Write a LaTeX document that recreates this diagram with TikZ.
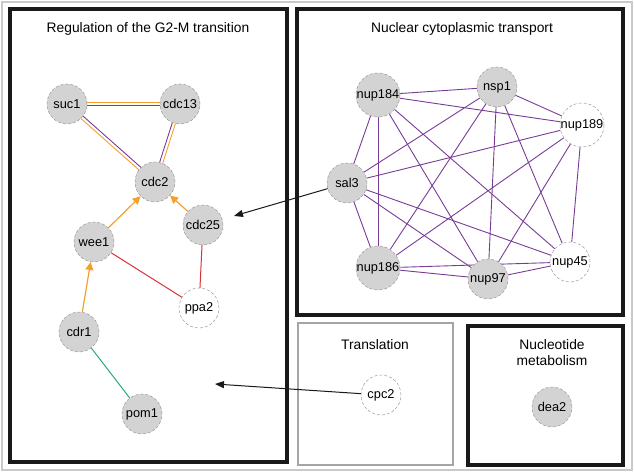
\documentclass[tikz,border=0pt]{standalone}
\usepackage{fontspec}
\setmainfont{Liberation Sans}
\usetikzlibrary{calc,arrows.meta,backgrounds}
\definecolor{nodegray}{RGB}{211,211,211}
\definecolor{edgeorange}{RGB}{245,160,45}
\definecolor{edgepurple}{RGB}{120,60,150}
\definecolor{edgered}{RGB}{215,50,55}
\definecolor{edgegreen}{RGB}{40,170,120}
\definecolor{framegray}{RGB}{165,165,165}
\tikzset{
  gene/.style={circle, minimum size=40pt, inner sep=0pt, draw=gray!80, densely dashed, line width=0.5pt, fill=nodegray, font=\fontsize{12.8}{14}\selectfont},
  genew/.style={gene, fill=white},
  titletext/.style={font=\fontsize{13.8}{16}\selectfont, align=center, inner sep=0pt},
  bigbox/.style={draw=black!90, line width=4pt},
  graybox/.style={draw=framegray, line width=2pt},
  oarrow/.style={edgeorange, line width=1.2pt, -{Triangle[length=8pt,width=8pt]}},
  karrow/.style={black!90, line width=1pt, -{Triangle[length=9pt,width=7pt]}},
  pline/.style={edgepurple, line width=0.9pt},
  oline/.style={edgeorange, line width=0.9pt},
  rline/.style={edgered, line width=1pt},
  gline/.style={edgegreen, line width=1pt},
}
\begin{document}
\begin{tikzpicture}[x=1pt,y=-1pt]
\useasboundingbox (0,0) rectangle (634,473);
\draw[framegray!60, line width=1.5pt] (2,2) rectangle (632,470);
% boxes
\draw[bigbox] (10,9) rectangle (287,462);
\draw[bigbox] (297,9) rectangle (623,315);
\draw[graybox] (298,323) rectangle (453,465);
\draw[bigbox] (468,326) rectangle (623,465);
% titles
\node[titletext] (t1) at (148,29) {Regulation of the G2-M transition};
\node[titletext] (t2) at (462,29) {Nuclear cytoplasmic transport};
\node[titletext] (t3) at (375,345) {Translation};
\node[titletext] (t4) at (552,353) {Nucleotide\\metabolism};
% left nodes
\node[gene] (suc1) at (67,104) {suc1};
\node[gene] (cdc13) at (180,104) {cdc13};
\node[gene] (cdc2) at (155,182) {cdc2};
\node[gene] (cdc25) at (203,225) {cdc25};
\node[gene] (wee1) at (94,242) {wee1};
\node[genew] (ppa2) at (199,308) {ppa2};
\node[gene] (cdr1) at (79,332) {cdr1};
\node[gene] (pom1) at (142,414) {pom1};
\coordinate (tgt) at (215,384);
% right nodes
\node[gene] (nup184) at (378,95) {nup184};
\node[gene] (nsp1) at (497,87) {nsp1};
\node[genew] (nup189) at (582,125) {nup189};
\node[gene] (sal3) at (347,183) {sal3};
\node[gene] (nup186) at (378,268) {nup186};
\node[gene] (nup97) at (488,279) {nup97};
\node[genew] (nup45) at (570,262) {nup45};
% small boxes
\node[genew] (cpc2) at (381,395) {cpc2};
\node[gene] (dea2) at (552,407) {dea2};
\begin{scope}[on background layer]
  % double edges
  \draw[oline] ($(suc1)!1.6pt!90:(cdc13)$) -- ($(cdc13)!1.6pt!-90:(suc1)$);
  \draw[pline] ($(suc1)!1.6pt!-90:(cdc13)$) -- ($(cdc13)!1.6pt!90:(suc1)$);
  \draw[pline] ($(suc1)!1.6pt!90:(cdc2)$) -- ($(cdc2)!1.6pt!-90:(suc1)$);
  \draw[oline] ($(suc1)!1.6pt!-90:(cdc2)$) -- ($(cdc2)!1.6pt!90:(suc1)$);
  \draw[oline] ($(cdc13)!1.6pt!90:(cdc2)$) -- ($(cdc2)!1.6pt!-90:(cdc13)$);
  \draw[pline] ($(cdc13)!1.6pt!-90:(cdc2)$) -- ($(cdc2)!1.6pt!90:(cdc13)$);
  % complete graph
  \foreach \a/\b in {nup184/nsp1, nup184/nup189, nup184/sal3, nup184/nup186, nup184/nup97, nup184/nup45,
                     nsp1/nup189, nsp1/sal3, nsp1/nup186, nsp1/nup97, nsp1/nup45,
                     nup189/sal3, nup189/nup186, nup189/nup97, nup189/nup45,
                     sal3/nup186, sal3/nup97, sal3/nup45,
                     nup186/nup97, nup186/nup45, nup97/nup45}
    \draw[pline] (\a) -- (\b);
\end{scope}
% left edges
\draw[oarrow] (wee1) -- (cdc2);
\draw[oarrow] (cdc25) -- (cdc2);
\draw[oarrow] (cdr1) -- (wee1);
\draw[rline] (wee1) -- (ppa2);
\draw[rline] (cdc25) -- (ppa2);
\draw[gline] (cdr1) -- (pom1);
% cross-box arrows
\draw[karrow, shorten >=12pt] (sal3) -- (cdc25);
\draw[karrow] (cpc2) -- (tgt);
\end{tikzpicture}
\end{document}
